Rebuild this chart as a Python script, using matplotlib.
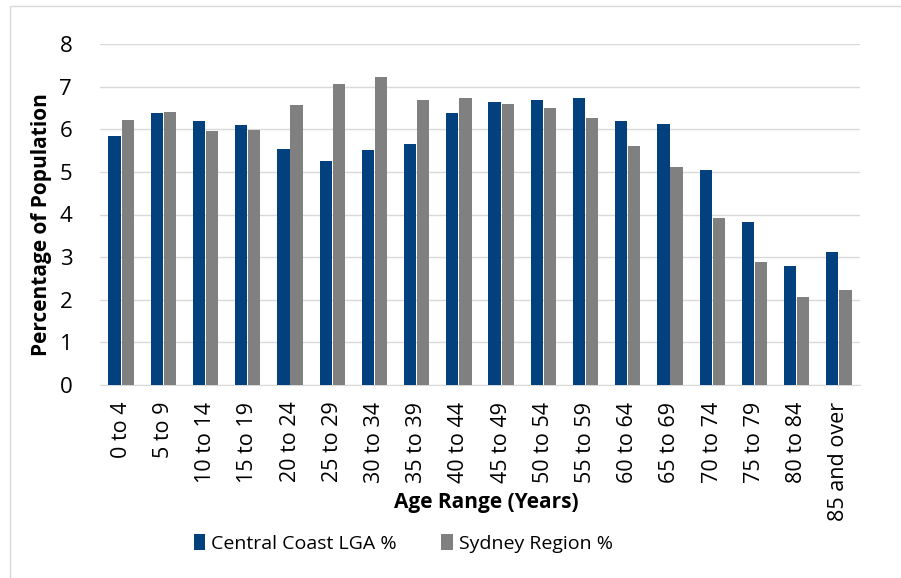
import numpy as np
import matplotlib
matplotlib.use("Agg")
import matplotlib.pyplot as plt
from matplotlib.patches import Rectangle

plt.rcParams['font.family'] = ['Open Sans', 'DejaVu Sans']

ages = ["0 to 4", "5 to 9", "10 to 14", "15 to 19", "20 to 24", "25 to 29",
        "30 to 34", "35 to 39", "40 to 44", "45 to 49", "50 to 54", "55 to 59",
        "60 to 64", "65 to 69", "70 to 74", "75 to 79", "80 to 84", "85 and over"]
central_coast = [5.84, 6.38, 6.20, 6.10, 5.54, 5.26, 5.52, 5.66, 6.38,
                 6.64, 6.69, 6.74, 6.20, 6.12, 5.05, 3.83, 2.79, 3.12]
sydney = [6.22, 6.41, 5.95, 5.99, 6.57, 7.05, 7.23, 6.69, 6.74,
          6.59, 6.50, 6.27, 5.61, 5.12, 3.92, 2.89, 2.07, 2.23]

fig = plt.figure(figsize=[9.01, 5.78], dpi=100)
ax = fig.add_axes([100/901, 1-385/578, 760/901, 341/578])

x = np.arange(len(ages))
w = 0.29
ax.bar(x - w/2 - 0.01, central_coast, w, color="#02407e", label="Central Coast LGA %", zorder=3)
ax.bar(x + w/2 + 0.01, sydney, w, color="#808080", label="Sydney Region %", zorder=3)

ax.set_xlim(-0.5, len(ages) - 0.5)
ax.set_ylim(0, 8)
ax.set_yticks(range(0, 9))
ax.grid(axis='y', color="#d9d9d9", linewidth=1, zorder=0)
for s in ['top', 'right', 'left']:
	ax.spines[s].set_visible(False)
ax.spines['bottom'].set_color("#d9d9d9")
ax.tick_params(axis='both', length=0, colors="#000000")
ax.tick_params(axis='y', pad=20, labelsize=16)
ax.tick_params(axis='x', pad=12, labelsize=15.5)
ax.set_xticks(x)
ax.set_xticklabels(ages, rotation=90)

ax.set_ylabel("Percentage of Population", fontsize=15, fontweight='bold')
ax.yaxis.set_label_coords(-0.063, 0.47)
ax.set_xlabel("Age Range (Years)", fontsize=15, fontweight='bold')
ax.xaxis.set_label_coords(0.508, -0.315)

ax.legend(loc="upper left", bbox_to_anchor=(0.1, -0.385), ncol=2, frameon=False,
          fontsize=14, handlelength=0.6, handleheight=0.9, handletextpad=0.3, columnspacing=2.3)

# chart frame
fig.patches.append(Rectangle((10/901, -0.01), 1.0, 1.0, transform=fig.transFigure,
                             fill=False, edgecolor="#d9d9d9", linewidth=1))

fig.savefig("out.png", dpi=100)
